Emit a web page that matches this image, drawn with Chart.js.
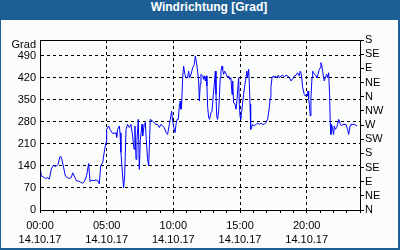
<!DOCTYPE html>
<html>
<head>
<meta charset="utf-8">
<script src="https://cdn.jsdelivr.net/npm/chart.js@4"></script>
<style>
  html, body { margin: 0; padding: 0; background: #fff; }
  #wrap { position: relative; width: 400px; height: 250px; background: #1d5f95; overflow: hidden; }
  #panel { position: absolute; left: 1px; top: 20px; width: 397px; height: 228px; background: #fbfdfb; }
  #title { position: absolute; left: 0; top: 0; width: 400px; height: 20px; line-height: 20px;
           text-align: center; color: #fff; font: bold 12px "Liberation Sans", Arial, sans-serif; padding-left: 18px; box-sizing: border-box; }
  canvas { position: absolute; left: 0; top: 0; }
</style>
</head>
<body>
<div id="wrap">
  <div id="panel"></div>
  <div id="title">Windrichtung [Grad]</div>
  <canvas id="chart" width="400" height="250"></canvas>
</div>
<script>
// time of day in hours (14.10.17)
const hours = [
  0.0, 0.1, 0.25, 0.4, 0.55, 0.7, 0.85, 1.0, 1.2, 1.35, 1.5, 1.6, 1.75, 1.9, 2.05, 2.2, 2.35, 2.45, 2.6, 2.75,
  2.9, 3.05, 3.2, 3.35, 3.5, 3.65, 3.75, 3.9, 4.05, 4.2, 4.35, 4.45, 4.55, 4.7, 4.85, 4.95, 5.0, 5.15, 5.25, 5.45,
  5.7, 5.75, 5.82, 5.95, 6.0, 6.07, 6.2, 6.27, 6.35, 6.45, 6.57, 6.7, 6.82, 6.95, 7.05, 7.12, 7.2, 7.27, 7.37, 7.45,
  7.52, 7.65, 7.7, 7.82, 7.9, 7.97, 8.07, 8.15, 8.2, 8.27, 8.45, 8.7, 8.82, 8.95, 9.07, 9.32, 9.45, 9.57, 9.7, 9.82,
  9.87, 9.95, 10.03, 10.13, 10.2, 10.28, 10.37, 10.45, 10.52, 10.57, 10.63, 10.7, 10.77, 10.87, 10.95, 11.07, 11.15, 11.22, 11.33, 11.45,
  11.57, 11.65, 11.72, 11.82, 11.9, 11.95, 12.02, 12.07, 12.2, 12.27, 12.32, 12.4, 12.47, 12.52, 12.57, 12.65, 12.72, 12.82, 12.9, 13.0,
  13.07, 13.15, 13.2, 13.25, 13.32, 13.4, 13.45, 13.52, 13.57, 13.65, 13.7, 13.77, 13.85, 13.92, 13.97, 14.07, 14.15, 14.22, 14.32, 14.4,
  14.45, 14.52, 14.62, 14.7, 14.77, 14.82, 14.9, 14.95, 15.0, 15.05, 15.12, 15.2, 15.27, 15.37, 15.45, 15.52, 15.57, 15.65, 15.7, 15.75,
  15.8, 15.87, 15.95, 16.07, 16.2, 16.32, 16.45, 16.57, 16.7, 16.82, 16.95, 17.07, 17.2, 17.27, 17.32, 17.4, 17.5, 17.57, 17.65, 17.75,
  17.87, 17.95, 18.08, 18.2, 18.32, 18.45, 18.57, 18.7, 18.83, 18.95, 19.07, 19.2, 19.32, 19.45, 19.52, 19.6, 19.7, 19.82, 19.9, 19.97,
  20.05, 20.1, 20.15, 20.2, 20.27, 20.32, 20.4, 20.45, 20.52, 20.6, 20.7, 20.77, 20.85, 20.95, 21.02, 21.07, 21.12, 21.2, 21.27, 21.32,
  21.4, 21.5, 21.57, 21.65, 21.72, 21.77, 21.82, 21.87, 21.95, 22.02, 22.07, 22.15, 22.25, 22.32, 22.4, 22.45, 22.52, 22.62, 22.7, 22.95,
  23.07, 23.15, 23.25, 23.32, 23.57, 23.77
];

// wind direction in degrees
const direction = [
  140, 108, 105, 100, 103, 98, 130, 142, 138, 145, 170, 168, 140, 108, 103, 100, 103, 118, 105, 92,
  92, 88, 85, 92, 110, 148, 90, 95, 93, 96, 92, 83, 140, 150, 193, 215, 256, 267, 256, 243,
  245, 231, 256, 267, 245, 183, 108, 71, 108, 256, 272, 262, 272, 235, 193, 267, 161, 220, 288, 129,
  220, 272, 235, 272, 278, 224, 161, 140, 200, 288, 282, 272, 272, 262, 272, 262, 247, 240, 272, 299,
  314, 283, 262, 246, 272, 288, 288, 330, 346, 320, 340, 420, 457, 431, 420, 420, 441, 420, 431, 452,
  462, 489, 473, 441, 410, 346, 400, 431, 426, 415, 426, 410, 426, 394, 330, 293, 288, 309, 314, 367,
  399, 441, 367, 299, 288, 314, 357, 420, 441, 457, 446, 431, 441, 436, 431, 420, 426, 415, 420, 367,
  410, 341, 336, 320, 346, 378, 420, 336, 299, 288, 310, 341, 367, 399, 420, 441, 420, 447, 399, 336,
  256, 262, 272, 267, 272, 276, 272, 276, 272, 272, 278, 288, 325, 357, 389, 420, 426, 420, 426, 420,
  428, 420, 426, 428, 423, 428, 426, 420, 410, 417, 426, 428, 436, 426, 441, 431, 389, 367, 362, 367,
  362, 378, 352, 336, 299, 357, 420, 441, 436, 431, 426, 420, 431, 447, 452, 468, 462, 441, 420, 410,
  420, 431, 420, 436, 367, 272, 240, 272, 256, 240, 267, 256, 262, 272, 288, 283, 272, 267, 272, 272,
  256, 240, 267, 272, 272, 267
];

const degreeTicks = [0, 70, 140, 210, 280, 350, 420, 490];
const compass = ["N", "NE", "E", "SE", "S", "SW", "W", "NW", "N", "NE", "E", "SE", "S"];
const dateLabel = "14.10.17";
const unitLabel = "Grad";

const font = { family: "'Liberation Sans', Arial, sans-serif", size: 11, lineHeight: 1.25 };

const framePlugin = {
  id: "frame",
  afterDatasetsDraw(chart) {
    const { ctx, chartArea: a } = chart;
    ctx.save();
    ctx.strokeStyle = "#000";
    ctx.lineWidth = 1;
    ctx.strokeRect(Math.round(a.left) + 0.5, Math.round(a.top) + 0.5,
      Math.round(a.right - a.left), Math.round(a.bottom - a.top));
    ctx.restore();
  }
};

new Chart(document.getElementById("chart"), {
  type: "line",
  data: {
    datasets: [{
      data: hours.map((h, i) => ({ x: h, y: direction[i] })),
      borderColor: "#0000ff",
      borderWidth: 1,
      pointRadius: 0,
      tension: 0,
      fill: false
    }]
  },
  options: {
    responsive: false,
    animation: false,
    events: [],
    layout: { autoPadding: false, padding: { top: 40, left: 0, right: 0, bottom: 0 } },
    plugins: { legend: { display: false }, tooltip: { enabled: false }, title: { display: false } },
    scales: {
      x: {
        type: "linear",
        min: 0,
        max: 24,
        afterFit: s => { s.height = 40; },
        ticks: {
          stepSize: 1,
          autoSkip: false,
          maxRotation: 0,
          padding: 6,
          color: "#000",
          font,
          callback: v => v % 5 === 0 ? [String(v).padStart(2, "0") + ":00", dateLabel] : ""
        },
        grid: {
          color: c => (c.tick && c.tick.value % 5 === 0 && c.tick.value > 0 && c.tick.value < 24) ? "#000" : "transparent",
          tickColor: "#000",
          tickLength: 3,
          tickBorderDash: []
        },
        border: { display: true, color: "#000", dash: [3, 3] }
      },
      y: {
        position: "left",
        min: 0,
        max: 540,
        afterFit: s => { s.width = 40; },
        afterBuildTicks: s => { s.ticks = degreeTicks.concat([523]).map(v => ({ value: v })); },
        ticks: {
          autoSkip: false,
          padding: 4,
          color: "#000",
          font,
          callback: v => v > 500 ? unitLabel : v
        },
        grid: {
          drawTicks: false,
          color: c => (c.tick && c.tick.value > 0 && c.tick.value < 500) ? "#000" : "transparent"
        },
        border: { display: true, color: "#000", dash: [3, 3] }
      },
      y2: {
        position: "right",
        min: 0,
        max: 540,
        afterFit: s => { s.width = 40; },
        afterBuildTicks: s => { s.ticks = compass.map((c, i) => ({ value: i * 45 })); },
        ticks: {
          autoSkip: false,
          padding: 1,
          color: "#000",
          font,
          callback: v => compass[Math.round(v / 45)]
        },
        grid: { drawOnChartArea: false, tickColor: "#000", tickLength: 4, tickBorderDash: [] },
        border: { display: true, color: "#000" }
      }
    }
  },
  plugins: [framePlugin]
});
</script>
</body>
</html>
